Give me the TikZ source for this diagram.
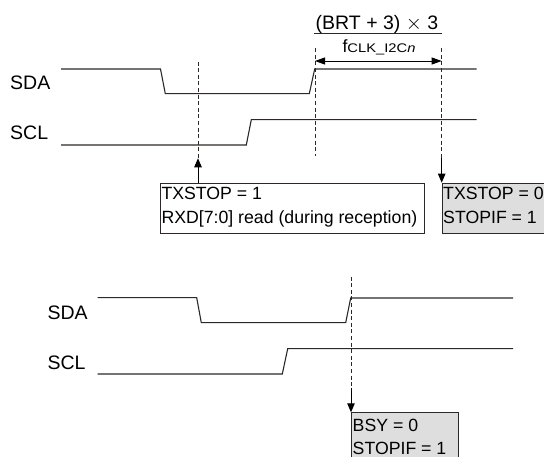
\documentclass[tikz,border=0pt]{standalone}
\usepackage{fontspec}
\setmainfont{Liberation Sans}
\usetikzlibrary{arrows.meta}
\definecolor{boxgray}{RGB}{222,222,222}
\definecolor{ink}{RGB}{45,40,40}
\begin{document}
\begin{tikzpicture}[x=1pt,y=-1pt,
  every node/.style={font=\fontsize{17.7}{24}\selectfont, text=black},
  sig/.style={draw=ink, line width=1.1pt, line join=miter},
  guide/.style={draw=ink, line width=0.9pt, dash pattern=on 4pt off 2.6pt},
  conn/.style={draw=black, line width=0.9pt, -{Triangle[length=9pt,width=7.5pt]}},
  dimarrow/.style={draw=black, line width=0.9pt, {Triangle[length=10pt,width=7pt]}-{Triangle[length=10pt,width=7pt]}},
  lbl/.style={anchor=base west, inner sep=0pt, font=\fontsize{19.5}{24}\selectfont},
  regbox/.style={draw=ink, line width=0.9pt, anchor=north west, inner sep=0pt},
  txt/.style={anchor=base west, inner sep=0pt}
]
\useasboundingbox (0,0) rectangle (544,457);

% ---------- top diagram ----------
\node[lbl] (sda1) at (10,89.3) {SDA};
\node[lbl] (scl1) at (10,139.3) {SCL};

\draw[sig] (61,69) -- (160.5,69) -- (165.3,93.7) -- (309.3,93.7) -- (314.7,69) -- (476.7,69);
\draw[sig] (61,145) -- (246.3,145) -- (251.3,119.7) -- (476.7,119.7);

% fraction
\node[anchor=base, inner sep=0pt, font=\fontsize{19.5}{24}\selectfont] (num) at (377,29.3) {(BRT + 3) $\times$ 3};
\draw[line width=1pt, draw=ink] (314,34) -- (441.7,34);
\node[anchor=base, inner sep=0pt] (den) at (379,52.7) {f\scalebox{1.18}[1]{\fontsize{12.5}{14}\selectfont CLK\_I2C\textit{n}}};

% guides
\coordinate (g1t) at (198,61.7);
\coordinate (g1b) at (198,158.3);
\coordinate (g2t) at (315,48.3);
\coordinate (g2b) at (315,156);
\coordinate (g3t) at (441.7,48.3);
\coordinate (g3b) at (441.7,158);
\draw[guide] (g1t) -- (g1b);
\draw[guide] (g2t) -- (g2b);
\draw[guide] (g3t) -- (g3b);

\coordinate (da) at (315,61);
\coordinate (db) at (441.7,61);
\draw[dimarrow] (da) -- (db);

% boxes
\node[regbox, fill=white, minimum width=264pt, minimum height=50.6pt] (box1) at (160,182.7) {};
\node[txt] (t11) at (161.3,199.3) {TXSTOP = 1};
\node[txt] (t12) at (161.3,224) {RXD[7:0] read (during reception)};

\node[regbox, fill=boxgray, minimum width=110pt, minimum height=50.6pt] (box2) at (441.7,182.7) {};
\node[txt] (t21) at (443,199.3) {TXSTOP = 0};
\node[txt] (t22) at (443,224) {STOPIF = 1};

\draw[conn] (box1.north west -| g1b) -- (g1b);
\draw[conn] (g3b) -- (box2.north west);

% ---------- bottom diagram ----------
\node[lbl] (sda2) at (47.3,319.3) {SDA};
\node[lbl] (scl2) at (47.3,369.3) {SCL};

\draw[sig] (97.7,297.7) -- (196.7,297.7) -- (201.3,322.7) -- (345.7,322.7) -- (350.7,298) -- (513,298);
\draw[sig] (97.7,374) -- (282.3,374) -- (287.7,348.7) -- (513,348.7);

\coordinate (g4t) at (351,276.7);
\coordinate (g4b) at (351,388);
\draw[guide] (g4t) -- (g4b);

\node[regbox, fill=boxgray, minimum width=107pt, minimum height=55pt] (box3) at (351,412.3) {};
\node[txt] (t31) at (352.5,431) {BSY = 0};
\node[txt] (t32) at (352.5,454) {STOPIF = 1};
\draw[conn] (g4b) -- (box3.north west);
\end{tikzpicture}
\end{document}
